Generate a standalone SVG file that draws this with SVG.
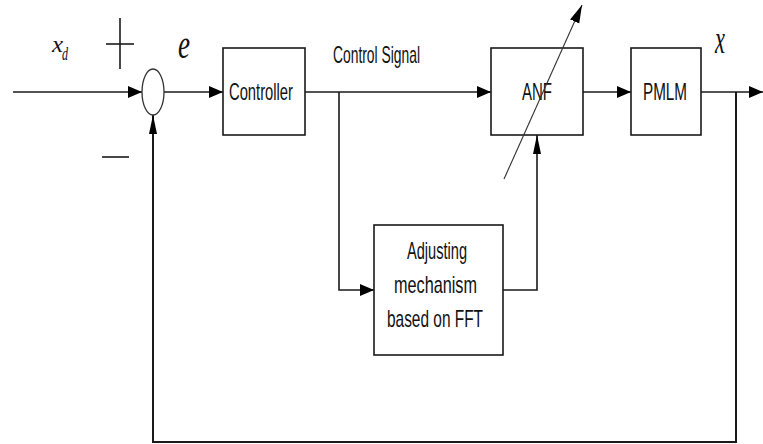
<svg xmlns="http://www.w3.org/2000/svg" width="763" height="444" viewBox="0 0 763 444">
<style>
.ln{fill:none;stroke:#1a1a1a;stroke-width:1.6}
.bx{fill:#fff;stroke:#1a1a1a;stroke-width:1.6}
.lb{font-family:"Liberation Sans",Arial,sans-serif;font-size:24px;fill:#111}
.sym{font-family:"Liberation Serif","Times New Roman",serif;font-style:italic;fill:#111}
</style>
<defs>
<marker id="ah" markerUnits="userSpaceOnUse" markerWidth="16" markerHeight="14" refX="14" refY="6" orient="auto">
<path d="M0,0 L14,6 L0,12 z" fill="#000"/>
</marker>
<marker id="av" markerUnits="userSpaceOnUse" markerWidth="22" markerHeight="10" refX="19" refY="4" orient="auto">
<path d="M0,0 L19,4 L0,8 z" fill="#000"/>
</marker>
<marker id="ad" markerUnits="userSpaceOnUse" markerWidth="20" markerHeight="12" refX="18" refY="5" orient="auto">
<path d="M0,0 L18,5 L0,10 z" fill="#000"/>
</marker>
</defs>

<g id="connectors">
<line class="ln" x1="13" y1="92" x2="142" y2="92" marker-end="url(#ah)"/>
<line class="ln" x1="164" y1="92" x2="223" y2="92" marker-end="url(#ah)"/>
<line class="ln" x1="305" y1="92" x2="491" y2="92" marker-end="url(#ah)"/>
<line class="ln" x1="583" y1="92" x2="631" y2="92" marker-end="url(#ah)"/>
<line class="ln" x1="701" y1="92" x2="763" y2="92" marker-end="url(#ah)"/>
<polyline class="ln" points="339,92 339,290 374,290" marker-end="url(#ah)"/>
<polyline class="ln" points="503,290 537,290 537,135" marker-end="url(#av)"/>
<polyline class="ln" points="736,92 736,442 153,442 153,115" marker-end="url(#av)" style="stroke-width:2"/>
</g>

<g id="sum">
<ellipse cx="153" cy="92" rx="11" ry="23" fill="#fff" stroke="#333" stroke-width="1.3"/>
<line class="ln" x1="120" y1="18" x2="120" y2="69"/>
<line class="ln" x1="106" y1="44" x2="134" y2="44"/>
<line class="ln" x1="102" y1="157" x2="129" y2="157"/>
</g>

<g id="labels">
<text class="sym" x="52" y="52" font-size="24" textLength="11" lengthAdjust="spacingAndGlyphs">x</text>
<text class="sym" x="62" y="60" font-size="19" textLength="6" lengthAdjust="spacingAndGlyphs">d</text>
<text class="sym" x="178" y="58" font-size="40" textLength="12" lengthAdjust="spacingAndGlyphs">e</text>
<text class="sym" x="715" y="53" font-size="40" textLength="10" lengthAdjust="spacingAndGlyphs">x</text>
<text class="lb" x="333" y="63" textLength="87" lengthAdjust="spacingAndGlyphs">Control Signal</text>
</g>

<g id="controller">
<rect class="bx" x="223" y="48" width="82" height="87"/>
<text class="lb" x="229" y="100" textLength="64" lengthAdjust="spacingAndGlyphs">Controller</text>
</g>

<g id="anf">
<rect class="bx" x="491" y="48" width="92" height="87"/>
<text class="lb" x="522" y="100" textLength="30" lengthAdjust="spacingAndGlyphs">ANF</text>
</g>

<g id="pmlm">
<rect class="bx" x="631" y="48" width="70" height="87"/>
<text class="lb" x="643" y="100" textLength="44" lengthAdjust="spacingAndGlyphs">PMLM</text>
</g>

<g id="adjusting">
<rect class="bx" x="374" y="225" width="129" height="130"/>
<text class="lb" x="407" y="259" textLength="60" lengthAdjust="spacingAndGlyphs">Adjusting</text>
<text class="lb" x="394" y="293" textLength="83" lengthAdjust="spacingAndGlyphs">mechanism</text>
<text class="lb" x="387" y="327" textLength="96" lengthAdjust="spacingAndGlyphs">based on FFT</text>
</g>

<g id="tuning-arrow">
<line x1="504" y1="179" x2="582" y2="5" stroke="#333" stroke-width="1.1" marker-end="url(#ad)"/>
</g>
</svg>
